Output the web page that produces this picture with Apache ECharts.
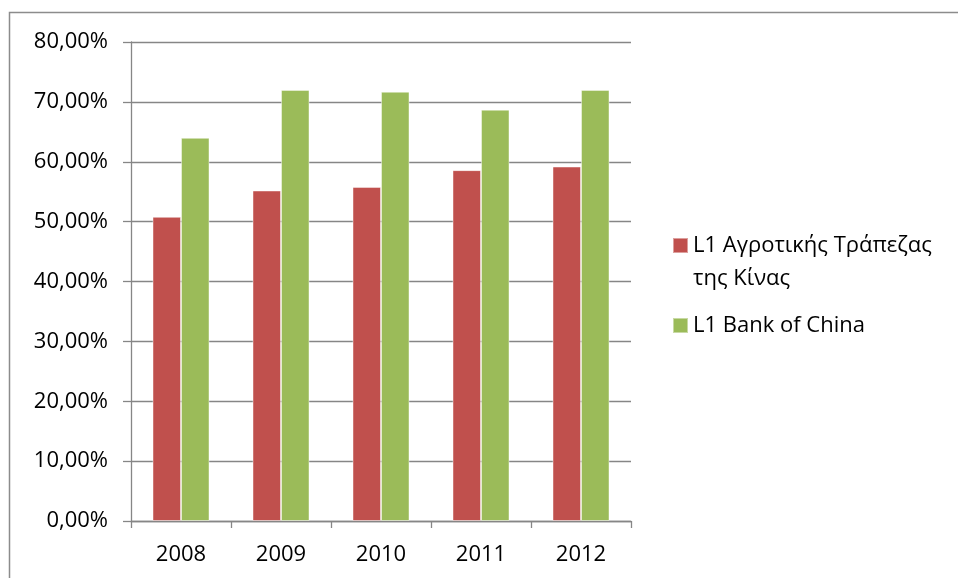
<!DOCTYPE html>
<html>
<head>
<meta charset="utf-8">
<script src="https://cdn.jsdelivr.net/npm/echarts@6/dist/echarts.min.js"></script>
<style>
  html, body { margin: 0; padding: 0; background: #fff; }
  #chart { width: 958px; height: 578px; }
</style>
</head>
<body>
<div id="chart"></div>
<script>
// Years on the category axis
const years = ['2008', '2009', '2010', '2011', '2012'];
// L1 ratio, Agricultural Bank of China (%)
const agriBank = [50.8, 55.2, 55.8, 58.6, 59.2];
// L1 ratio, Bank of China (%)
const bankOfChina = [64.0, 72.0, 71.7, 68.7, 72.0];
const seriesNames = ['L1 Αγροτικής Τράπεζας της Κίνας', 'L1 Bank of China'];
const yTicks = { min: 0, max: 80, step: 10 };

const font = 'Open Sans';
const fontSize = 22;
const chart = echarts.init(document.getElementById('chart'), null, { renderer: 'canvas' });

chart.setOption({
  animation: false,
  backgroundColor: '#ffffff',
  graphic: [{
    type: 'rect',
    shape: { x: 9.5, y: 12.5, width: 1000, height: 700 },
    style: { fill: 'none', stroke: '#8c8c8c', lineWidth: 1.5 },
    silent: true
  }],
  grid: { left: 131, right: 327, top: 42, bottom: 57, containLabel: false },
  legend: {
    orient: 'vertical',
    left: 672,
    top: 196,
    padding: 0,
    itemWidth: 15,
    itemHeight: 15,
    itemGap: 14,
    icon: 'rect',
    textStyle: { fontFamily: font, fontSize: fontSize, color: '#000', lineHeight: 33 },
    // the blank first line keeps the swatch level with the first line of the wrapped name
    formatter: function (name) {
      return name === seriesNames[0] ? ' \nL1 Αγροτικής Τράπεζας\nτης Κίνας' : name;
    },
    data: seriesNames
  },
  xAxis: {
    type: 'category',
    data: years,
    axisLine: { lineStyle: { color: '#868686', width: 1.3 } },
    axisTick: { show: true, length: 7, lineStyle: { color: '#868686', width: 1.3 } },
    axisLabel: { fontFamily: font, fontSize: fontSize, color: '#000', margin: 23 }
  },
  yAxis: {
    type: 'value',
    min: yTicks.min,
    max: yTicks.max,
    interval: yTicks.step,
    axisLine: { show: true, lineStyle: { color: '#868686', width: 1.3 } },
    axisTick: { show: true, length: 8, lineStyle: { color: '#868686', width: 1.3 } },
    splitLine: { lineStyle: { color: '#868686', width: 1.3 } },
    axisLabel: {
      fontFamily: font, fontSize: fontSize, color: '#000', margin: 23,
      formatter: function (v) { return v.toFixed(2).replace('.', ',') + '%'; }
    }
  },
  series: [
    {
      name: seriesNames[0],
      type: 'bar',
      data: agriBank,
      barGap: '0%',
      barCategoryGap: '43%',
      itemStyle: { color: '#C0504D', borderColor: 'rgba(255,255,255,0.45)', borderWidth: 1 }
    },
    {
      name: seriesNames[1],
      type: 'bar',
      data: bankOfChina,
      barGap: '0%',
      barCategoryGap: '43%',
      itemStyle: { color: '#9BBB59', borderColor: 'rgba(255,255,255,0.45)', borderWidth: 1 }
    }
  ]
});
</script>
</body>
</html>
